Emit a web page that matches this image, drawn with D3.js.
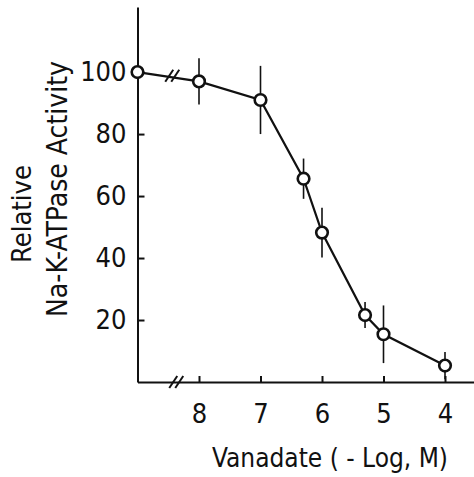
<!DOCTYPE html>
<html>
<head>
<meta charset="utf-8">
<script src="https://cdnjs.cloudflare.com/ajax/libs/d3/7.8.5/d3.min.js"></script>
<style>
  body { margin: 0; background: #fff; }
  svg { display: block; }
  .axis path, .axis line { stroke: #111; stroke-width: 2; }
  .axis text { font-family: "DejaVu Sans Condensed", "DejaVu Sans", sans-serif; font-size: 27px; fill: #111; }
  .label { font-family: "DejaVu Sans Condensed", "DejaVu Sans", sans-serif; font-size: 27px; fill: #111; }
</style>
</head>
<body>
<svg width="474" height="477"></svg>
<script>
// vanadate concentration (-log M); 9 stands for the control (no vanadate), drawn past the axis break
var conc = [9, 8, 7, 6.3, 6, 5.3, 5, 4];
var activity = [100, 97, 91, 65.6, 48.2, 21.6, 15.4, 5.3];
var sem = [0, 7.5, 11, 6.5, 8, 4.2, 9.3, 4.4];
var xTicks = [8, 7, 6, 5, 4];
var yTicks = [20, 40, 60, 80, 100];

var svg = d3.select("svg");

var x = d3.scaleLinear().domain([9, 3.5]).range([137.5, 475.75]);
var y = d3.scaleLinear().domain([0, 121]).range([382, 7]);

var xAxis = d3.axisBottom(x).tickValues(xTicks).tickFormat(d3.format("d"))
  .tickSizeInner(-6).tickSizeOuter(0).tickPadding(22);
var yAxis = d3.axisLeft(y).tickValues(yTicks).tickFormat(d3.format("d"))
  .tickSizeInner(-7).tickSizeOuter(0).tickPadding(11);

svg.append("g")
  .attr("class", "axis")
  .attr("transform", "translate(0," + y(0) + ")")
  .call(xAxis);

svg.append("g")
  .attr("class", "axis")
  .attr("transform", "translate(" + x(9) + ",0)")
  .call(yAxis);

svg.selectAll(".axis text").attr("fill", "#111");

// axis break marks
function breakMark(cx, cy) {
  [-3, 3].forEach(function(dx) {
    svg.append("line")
      .attr("x1", cx + dx - 4).attr("y1", cy + 6)
      .attr("x2", cx + dx + 4).attr("y2", cy - 6)
      .attr("stroke", "#111").attr("stroke-width", 2);
  });
}

var pts = conc.map(function(c, i) { return {c: c, v: activity[i], e: sem[i]}; });

// error bars
svg.append("g").selectAll("line")
  .data(pts.filter(function(d) { return d.e > 0; }))
  .enter().append("line")
    .attr("x1", function(d) { return x(d.c); })
    .attr("x2", function(d) { return x(d.c); })
    .attr("y1", function(d) { return y(d.v + d.e); })
    .attr("y2", function(d) { return y(d.v - d.e); })
    .attr("stroke", "#111")
    .attr("stroke-width", 1.6);

var line = d3.line()
  .x(function(d) { return x(d.c); })
  .y(function(d) { return y(d.v); });

svg.append("path")
  .datum(pts)
  .attr("d", line)
  .attr("fill", "none")
  .attr("stroke", "#111")
  .attr("stroke-width", 2.2);

breakMark((x(9) + x(8)) / 2 + 4, (y(activity[0]) + y(activity[1])) / 2 - 1);
breakMark(x(8.37), y(0));

svg.append("g").selectAll("circle")
  .data(pts)
  .enter().append("circle")
    .attr("cx", function(d) { return x(d.c); })
    .attr("cy", function(d) { return y(d.v); })
    .attr("r", 5.8)
    .attr("fill", "#fff")
    .attr("stroke", "#111")
    .attr("stroke-width", 2.6);

// axis titles
svg.append("text")
  .attr("class", "label")
  .attr("transform", "translate(31,214) rotate(-90)")
  .attr("text-anchor", "middle")
  .text("Relative");

svg.append("text")
  .attr("class", "label")
  .style("font-size", "28px")
  .attr("transform", "translate(67,189) rotate(-90)")
  .attr("text-anchor", "middle")
  .text("Na-K-ATPase Activity");

svg.append("text")
  .attr("class", "label")
  .style("font-size", "26px")
  .attr("x", 330)
  .attr("y", 467)
  .attr("text-anchor", "middle")
  .text("Vanadate ( - Log, M)");
</script>
</body>
</html>
